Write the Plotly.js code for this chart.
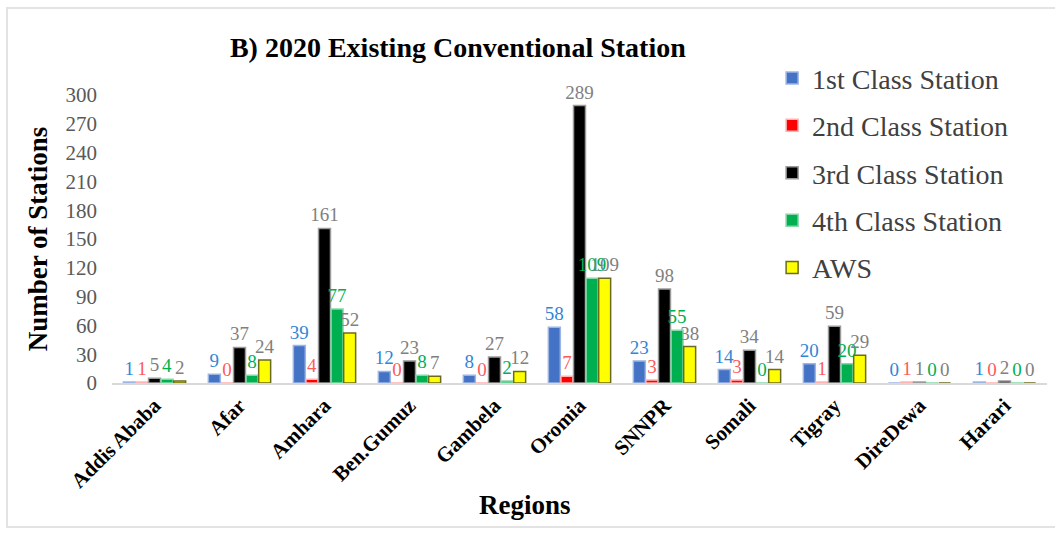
<!DOCTYPE html>
<html>
<head>
<meta charset="utf-8">
<script src="https://cdn.plot.ly/plotly-3.0.1.min.js"></script>
<style>
  html, body { margin: 0; padding: 0; background: #fff; }
  #chart { width: 1055px; height: 535px; position: relative; }
  #frame { position: absolute; left: 6px; top: 7px; width: 1060px; height: 521px; border: 2px solid #e3e3e3; pointer-events: none; box-sizing: border-box; }
</style>
</head>
<body>
<div id="chart"></div>
<div id="frame"></div>
<script>
const regions = ["Addis Ababa", "Afar", "Amhara", "Ben.Gumuz", "Gambela", "Oromia", "SNNPR", "Somali", "Tigray", "DireDewa", "Harari"];
const firstClass  = [1, 9, 39, 12, 8, 58, 23, 14, 20, 0, 1];
const secondClass = [1, 0, 4, 0, 0, 7, 3, 3, 1, 1, 0];
const thirdClass  = [5, 37, 161, 23, 27, 289, 98, 34, 59, 1, 2];
const fourthClass = [4, 8, 77, 8, 2, 109, 55, 0, 20, 0, 0];
const aws         = [2, 24, 52, 7, 12, 109, 38, 14, 29, 0, 0];
const seriesNames = ["1st Class Station", "2nd Class Station", "3rd Class Station", "4th Class Station", "AWS"];

const serif = "'Liberation Serif', 'Times New Roman', serif";
const styles = [
  {fill: "#4472C4", line: "#9db5e3", text: "#2f86d8"},
  {fill: "#FF0000", line: "#ffb3b3", text: "#ff5a5a"},
  {fill: "#000000", line: "#9a9a9a", text: "#808080"},
  {fill: "#00B050", line: "#86d7a8", text: "#00b050"},
  {fill: "#FFFF00", line: "#6b6b1e", text: "#808080"}
];
const allSeries = [firstClass, secondClass, thirdClass, fourthClass, aws];

const traces = allSeries.map((vals, i) => ({
  type: "bar",
  name: seriesNames[i],
  legendgroup: "g" + i,
  x: regions,
  y: vals,
  text: vals.map(String),
  textposition: "outside",
  constraintext: "none",
  cliponaxis: false,
  textfont: {family: serif, size: 19, color: styles[i].text},
  marker: {color: styles[i].fill, line: {color: styles[i].line, width: 1.5}},
  hoverinfo: "x+y+name"
}));

const layout = {
  width: 1055, height: 535,
  margin: {l: 112, r: 8, t: 95, b: 152},
  paper_bgcolor: "#ffffff", plot_bgcolor: "#ffffff",
  barmode: "group", bargap: 0.26, bargroupgap: 0.05,
  font: {family: serif, color: "#000"},
  title: {
    text: "<b>B) 2020 Existing Conventional Station</b>",
    font: {family: serif, size: 28, color: "#000"},
    xref: "container", x: 0.434, xanchor: "center",
    yref: "container", y: 1 - 47/535, yanchor: "middle"
  },
  xaxis: {
    type: "category",
    tickangle: -45,
    tickfont: {family: serif, size: 21, color: "#000", weight: "bold"},
    showline: true, linecolor: "#d9d9d9", linewidth: 2,
    ticks: "", showgrid: false, zeroline: false
  },
  yaxis: {
    range: [0, 300], dtick: 30, tick0: 0,
    showgrid: false, zeroline: false, showline: false,
    tickfont: {family: serif, size: 21, color: "#595959"},
    ticklabelstandoff: 14,
    title: {text: "<b>Number of Stations</b>", font: {family: serif, size: 27, color: "#000"}, standoff: 10}
  },
  legend: {
    x: 0.706, xanchor: "left", y: 1.145, yanchor: "top",
    bgcolor: "rgba(0,0,0,0)",
    font: {family: serif, size: 28, color: "#404040"},
    tracegroupgap: 8,
    traceorder: "grouped"
  },
  annotations: [{
    text: "<b>Regions</b>", xref: "paper", yref: "paper",
    x: (525 - 112) / 935, y: (383 - 505) / 288,
    xanchor: "center", yanchor: "middle", showarrow: false,
    font: {family: serif, size: 27, color: "#000"}
  }]
};

Plotly.newPlot("chart", traces, layout, {displayModeBar: false, staticPlot: true});
</script>
</body>
</html>
